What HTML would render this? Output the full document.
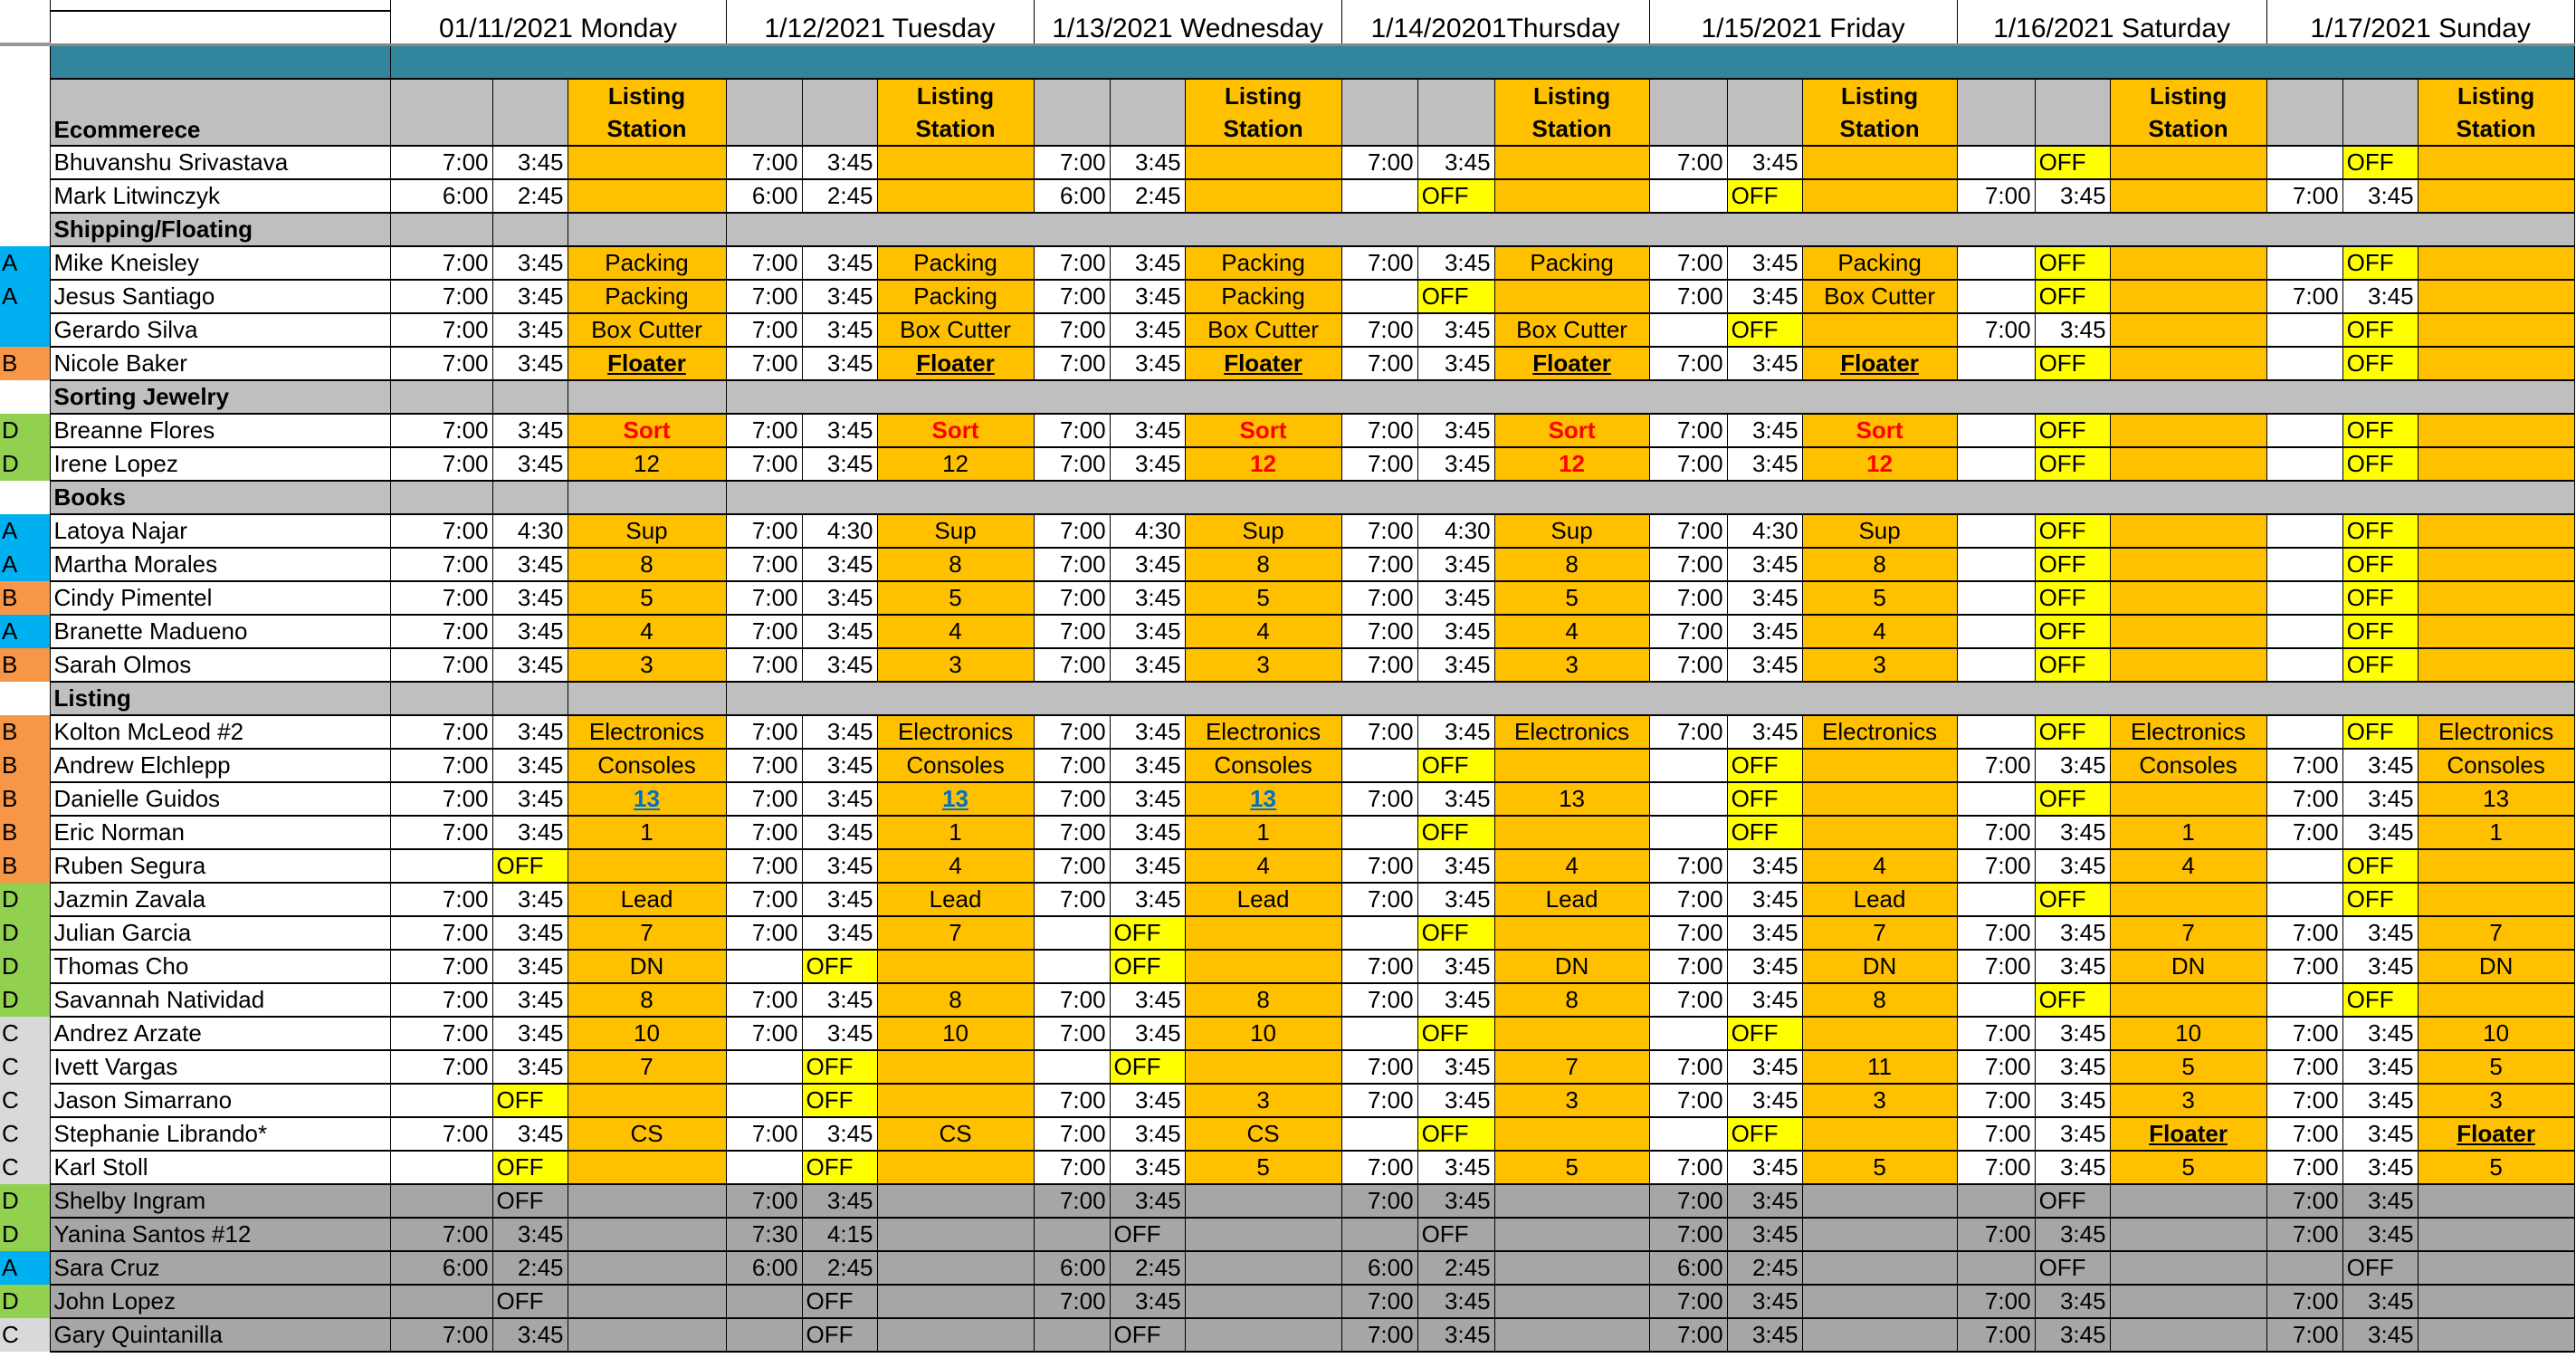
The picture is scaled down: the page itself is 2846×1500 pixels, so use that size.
<!DOCTYPE html>
<html><head><meta charset="utf-8"><style>
html,body{margin:0;padding:0;background:#fff;width:2846px;height:1500px;overflow:hidden}
table{border-collapse:collapse;table-layout:fixed;width:2842px;font-family:"Liberation Sans Narrow","Liberation Sans",sans-serif;font-size:26px;color:#000}
td{border:1px solid #000;border-bottom:2px solid #000;padding:0 4px;white-space:nowrap;overflow:hidden;height:35px;line-height:33px}
td.L{border:none;padding-left:2px;text-align:left}
.s,.e{text-align:right;background:#fff}
.y{background:#ffff00;text-align:left}
.o{background:#ffc000;text-align:center}
.g{background:#bfbfbf}
.b{font-weight:bold}
.r{color:#ff0000;font-weight:bold}
.bl{color:#0070c0;font-weight:bold;text-decoration:underline}
.fl{font-weight:bold;text-decoration:underline}
.A{background:#00b0f0}.B{background:#f79646}.D{background:#92d050}.C{background:#d9d9d9}
tr.dg td{background:#a6a6a6}
tr.dg td.y{background:#a6a6a6}
tr.dg td.o{background:#a6a6a6}
tr.dg td.A{background:#00b0f0}tr.dg td.D{background:#92d050}tr.dg td.C{background:#d9d9d9}
.hd td{text-align:center;font-size:30px}
</style></head><body>
<table>
<colgroup><col style="width:55px"><col style="width:376px">
<col style="width:113px"><col style="width:83px"><col style="width:175px">
<col style="width:84px"><col style="width:83px"><col style="width:173px">
<col style="width:84px"><col style="width:83px"><col style="width:173px">
<col style="width:84px"><col style="width:85px"><col style="width:171px">
<col style="width:86px"><col style="width:83px"><col style="width:171px">
<col style="width:86px"><col style="width:83px"><col style="width:173px">
<col style="width:84px"><col style="width:83px"><col style="width:173px">
</colgroup>
<tr class="hd"><td class="L" rowspan="2" style="height:47px;border-bottom:4px solid #999"></td><td style="height:11px;line-height:11px;border-top:none;border-bottom:2px solid #000"></td>
<td colspan="3" rowspan="2" style="vertical-align:bottom;border-top:none">01/11/2021 Monday</td>
<td colspan="3" rowspan="2" style="vertical-align:bottom;border-top:none">1/12/2021 Tuesday</td>
<td colspan="3" rowspan="2" style="vertical-align:bottom;border-top:none">1/13/2021 Wednesday</td>
<td colspan="3" rowspan="2" style="vertical-align:bottom;border-top:none">1/14/20201Thursday</td>
<td colspan="3" rowspan="2" style="vertical-align:bottom;border-top:none">1/15/2021 Friday</td>
<td colspan="3" rowspan="2" style="vertical-align:bottom;border-top:none">1/16/2021 Saturday</td>
<td colspan="3" rowspan="2" style="vertical-align:bottom;border-top:none">1/17/2021 Sunday</td></tr>
<tr><td style="height:33px"></td></tr>
<tr><td class="L" style="height:36px"></td><td style="background:#31859c;border-top:3px solid #888"></td><td colspan="21" style="background:#31859c;border-top:3px solid #888"></td></tr>
<tr><td class="L" style="height:73px"></td><td class="g b" style="vertical-align:bottom">Ecommerece</td>
<td class="g"></td><td class="g"></td><td class="o b" style="line-height:36px">Listing<br>Station</td>
<td class="g"></td><td class="g"></td><td class="o b" style="line-height:36px">Listing<br>Station</td>
<td class="g"></td><td class="g"></td><td class="o b" style="line-height:36px">Listing<br>Station</td>
<td class="g"></td><td class="g"></td><td class="o b" style="line-height:36px">Listing<br>Station</td>
<td class="g"></td><td class="g"></td><td class="o b" style="line-height:36px">Listing<br>Station</td>
<td class="g"></td><td class="g"></td><td class="o b" style="line-height:36px">Listing<br>Station</td>
<td class="g"></td><td class="g"></td><td class="o b" style="line-height:36px">Listing<br>Station</td></tr>

<tr><td class="L"></td><td>Bhuvanshu Srivastava</td><td class="s">7:00</td><td class="e">3:45</td><td class="o"></td><td class="s">7:00</td><td class="e">3:45</td><td class="o"></td><td class="s">7:00</td><td class="e">3:45</td><td class="o"></td><td class="s">7:00</td><td class="e">3:45</td><td class="o"></td><td class="s">7:00</td><td class="e">3:45</td><td class="o"></td><td class="s"></td><td class="y">OFF</td><td class="o"></td><td class="s"></td><td class="y">OFF</td><td class="o"></td></tr>
<tr><td class="L"></td><td>Mark Litwinczyk</td><td class="s">6:00</td><td class="e">2:45</td><td class="o"></td><td class="s">6:00</td><td class="e">2:45</td><td class="o"></td><td class="s">6:00</td><td class="e">2:45</td><td class="o"></td><td class="s"></td><td class="y">OFF</td><td class="o"></td><td class="s"></td><td class="y">OFF</td><td class="o"></td><td class="s">7:00</td><td class="e">3:45</td><td class="o"></td><td class="s">7:00</td><td class="e">3:45</td><td class="o"></td></tr>
<tr><td class="L"></td><td class="g b">Shipping/Floating</td><td class="g"></td><td class="g"></td><td class="g"></td><td class="g" colspan="18"></td></tr>
<tr><td class="L A">A</td><td>Mike Kneisley</td><td class="s">7:00</td><td class="e">3:45</td><td class="o">Packing</td><td class="s">7:00</td><td class="e">3:45</td><td class="o">Packing</td><td class="s">7:00</td><td class="e">3:45</td><td class="o">Packing</td><td class="s">7:00</td><td class="e">3:45</td><td class="o">Packing</td><td class="s">7:00</td><td class="e">3:45</td><td class="o">Packing</td><td class="s"></td><td class="y">OFF</td><td class="o"></td><td class="s"></td><td class="y">OFF</td><td class="o"></td></tr>
<tr><td class="L A">A</td><td>Jesus Santiago</td><td class="s">7:00</td><td class="e">3:45</td><td class="o">Packing</td><td class="s">7:00</td><td class="e">3:45</td><td class="o">Packing</td><td class="s">7:00</td><td class="e">3:45</td><td class="o">Packing</td><td class="s"></td><td class="y">OFF</td><td class="o"></td><td class="s">7:00</td><td class="e">3:45</td><td class="o">Box Cutter</td><td class="s"></td><td class="y">OFF</td><td class="o"></td><td class="s">7:00</td><td class="e">3:45</td><td class="o"></td></tr>
<tr><td class="L A"></td><td>Gerardo Silva</td><td class="s">7:00</td><td class="e">3:45</td><td class="o">Box Cutter</td><td class="s">7:00</td><td class="e">3:45</td><td class="o">Box Cutter</td><td class="s">7:00</td><td class="e">3:45</td><td class="o">Box Cutter</td><td class="s">7:00</td><td class="e">3:45</td><td class="o">Box Cutter</td><td class="s"></td><td class="y">OFF</td><td class="o"></td><td class="s">7:00</td><td class="e">3:45</td><td class="o"></td><td class="s"></td><td class="y">OFF</td><td class="o"></td></tr>
<tr><td class="L B">B</td><td>Nicole Baker</td><td class="s">7:00</td><td class="e">3:45</td><td class="o fl">Floater</td><td class="s">7:00</td><td class="e">3:45</td><td class="o fl">Floater</td><td class="s">7:00</td><td class="e">3:45</td><td class="o fl">Floater</td><td class="s">7:00</td><td class="e">3:45</td><td class="o fl">Floater</td><td class="s">7:00</td><td class="e">3:45</td><td class="o fl">Floater</td><td class="s"></td><td class="y">OFF</td><td class="o"></td><td class="s"></td><td class="y">OFF</td><td class="o"></td></tr>
<tr><td class="L"></td><td class="g b">Sorting Jewelry</td><td class="g"></td><td class="g"></td><td class="g"></td><td class="g" colspan="18"></td></tr>
<tr><td class="L D">D</td><td>Breanne Flores</td><td class="s">7:00</td><td class="e">3:45</td><td class="o r">Sort</td><td class="s">7:00</td><td class="e">3:45</td><td class="o r">Sort</td><td class="s">7:00</td><td class="e">3:45</td><td class="o r">Sort</td><td class="s">7:00</td><td class="e">3:45</td><td class="o r">Sort</td><td class="s">7:00</td><td class="e">3:45</td><td class="o r">Sort</td><td class="s"></td><td class="y">OFF</td><td class="o"></td><td class="s"></td><td class="y">OFF</td><td class="o"></td></tr>
<tr><td class="L D">D</td><td>Irene Lopez</td><td class="s">7:00</td><td class="e">3:45</td><td class="o">12</td><td class="s">7:00</td><td class="e">3:45</td><td class="o">12</td><td class="s">7:00</td><td class="e">3:45</td><td class="o r">12</td><td class="s">7:00</td><td class="e">3:45</td><td class="o r">12</td><td class="s">7:00</td><td class="e">3:45</td><td class="o r">12</td><td class="s"></td><td class="y">OFF</td><td class="o"></td><td class="s"></td><td class="y">OFF</td><td class="o"></td></tr>
<tr><td class="L"></td><td class="g b">Books</td><td class="g"></td><td class="g"></td><td class="g"></td><td class="g" colspan="18"></td></tr>
<tr><td class="L A">A</td><td>Latoya Najar</td><td class="s">7:00</td><td class="e">4:30</td><td class="o">Sup</td><td class="s">7:00</td><td class="e">4:30</td><td class="o">Sup</td><td class="s">7:00</td><td class="e">4:30</td><td class="o">Sup</td><td class="s">7:00</td><td class="e">4:30</td><td class="o">Sup</td><td class="s">7:00</td><td class="e">4:30</td><td class="o">Sup</td><td class="s"></td><td class="y">OFF</td><td class="o"></td><td class="s"></td><td class="y">OFF</td><td class="o"></td></tr>
<tr><td class="L A">A</td><td>Martha Morales</td><td class="s">7:00</td><td class="e">3:45</td><td class="o">8</td><td class="s">7:00</td><td class="e">3:45</td><td class="o">8</td><td class="s">7:00</td><td class="e">3:45</td><td class="o">8</td><td class="s">7:00</td><td class="e">3:45</td><td class="o">8</td><td class="s">7:00</td><td class="e">3:45</td><td class="o">8</td><td class="s"></td><td class="y">OFF</td><td class="o"></td><td class="s"></td><td class="y">OFF</td><td class="o"></td></tr>
<tr><td class="L B">B</td><td>Cindy Pimentel</td><td class="s">7:00</td><td class="e">3:45</td><td class="o">5</td><td class="s">7:00</td><td class="e">3:45</td><td class="o">5</td><td class="s">7:00</td><td class="e">3:45</td><td class="o">5</td><td class="s">7:00</td><td class="e">3:45</td><td class="o">5</td><td class="s">7:00</td><td class="e">3:45</td><td class="o">5</td><td class="s"></td><td class="y">OFF</td><td class="o"></td><td class="s"></td><td class="y">OFF</td><td class="o"></td></tr>
<tr><td class="L A">A</td><td>Branette Madueno</td><td class="s">7:00</td><td class="e">3:45</td><td class="o">4</td><td class="s">7:00</td><td class="e">3:45</td><td class="o">4</td><td class="s">7:00</td><td class="e">3:45</td><td class="o">4</td><td class="s">7:00</td><td class="e">3:45</td><td class="o">4</td><td class="s">7:00</td><td class="e">3:45</td><td class="o">4</td><td class="s"></td><td class="y">OFF</td><td class="o"></td><td class="s"></td><td class="y">OFF</td><td class="o"></td></tr>
<tr><td class="L B">B</td><td>Sarah Olmos</td><td class="s">7:00</td><td class="e">3:45</td><td class="o">3</td><td class="s">7:00</td><td class="e">3:45</td><td class="o">3</td><td class="s">7:00</td><td class="e">3:45</td><td class="o">3</td><td class="s">7:00</td><td class="e">3:45</td><td class="o">3</td><td class="s">7:00</td><td class="e">3:45</td><td class="o">3</td><td class="s"></td><td class="y">OFF</td><td class="o"></td><td class="s"></td><td class="y">OFF</td><td class="o"></td></tr>
<tr><td class="L"></td><td class="g b">Listing</td><td class="g"></td><td class="g"></td><td class="g"></td><td class="g" colspan="18"></td></tr>
<tr><td class="L B">B</td><td>Kolton McLeod #2</td><td class="s">7:00</td><td class="e">3:45</td><td class="o">Electronics</td><td class="s">7:00</td><td class="e">3:45</td><td class="o">Electronics</td><td class="s">7:00</td><td class="e">3:45</td><td class="o">Electronics</td><td class="s">7:00</td><td class="e">3:45</td><td class="o">Electronics</td><td class="s">7:00</td><td class="e">3:45</td><td class="o">Electronics</td><td class="s"></td><td class="y">OFF</td><td class="o">Electronics</td><td class="s"></td><td class="y">OFF</td><td class="o">Electronics</td></tr>
<tr><td class="L B">B</td><td>Andrew Elchlepp</td><td class="s">7:00</td><td class="e">3:45</td><td class="o">Consoles</td><td class="s">7:00</td><td class="e">3:45</td><td class="o">Consoles</td><td class="s">7:00</td><td class="e">3:45</td><td class="o">Consoles</td><td class="s"></td><td class="y">OFF</td><td class="o"></td><td class="s"></td><td class="y">OFF</td><td class="o"></td><td class="s">7:00</td><td class="e">3:45</td><td class="o">Consoles</td><td class="s">7:00</td><td class="e">3:45</td><td class="o">Consoles</td></tr>
<tr><td class="L B">B</td><td>Danielle Guidos</td><td class="s">7:00</td><td class="e">3:45</td><td class="o bl">13</td><td class="s">7:00</td><td class="e">3:45</td><td class="o bl">13</td><td class="s">7:00</td><td class="e">3:45</td><td class="o bl">13</td><td class="s">7:00</td><td class="e">3:45</td><td class="o">13</td><td class="s"></td><td class="y">OFF</td><td class="o"></td><td class="s"></td><td class="y">OFF</td><td class="o"></td><td class="s">7:00</td><td class="e">3:45</td><td class="o">13</td></tr>
<tr><td class="L B">B</td><td>Eric Norman</td><td class="s">7:00</td><td class="e">3:45</td><td class="o">1</td><td class="s">7:00</td><td class="e">3:45</td><td class="o">1</td><td class="s">7:00</td><td class="e">3:45</td><td class="o">1</td><td class="s"></td><td class="y">OFF</td><td class="o"></td><td class="s"></td><td class="y">OFF</td><td class="o"></td><td class="s">7:00</td><td class="e">3:45</td><td class="o">1</td><td class="s">7:00</td><td class="e">3:45</td><td class="o">1</td></tr>
<tr><td class="L B">B</td><td>Ruben Segura</td><td class="s"></td><td class="y">OFF</td><td class="o"></td><td class="s">7:00</td><td class="e">3:45</td><td class="o">4</td><td class="s">7:00</td><td class="e">3:45</td><td class="o">4</td><td class="s">7:00</td><td class="e">3:45</td><td class="o">4</td><td class="s">7:00</td><td class="e">3:45</td><td class="o">4</td><td class="s">7:00</td><td class="e">3:45</td><td class="o">4</td><td class="s"></td><td class="y">OFF</td><td class="o"></td></tr>
<tr><td class="L D">D</td><td>Jazmin Zavala</td><td class="s">7:00</td><td class="e">3:45</td><td class="o">Lead</td><td class="s">7:00</td><td class="e">3:45</td><td class="o">Lead</td><td class="s">7:00</td><td class="e">3:45</td><td class="o">Lead</td><td class="s">7:00</td><td class="e">3:45</td><td class="o">Lead</td><td class="s">7:00</td><td class="e">3:45</td><td class="o">Lead</td><td class="s"></td><td class="y">OFF</td><td class="o"></td><td class="s"></td><td class="y">OFF</td><td class="o"></td></tr>
<tr><td class="L D">D</td><td>Julian Garcia</td><td class="s">7:00</td><td class="e">3:45</td><td class="o">7</td><td class="s">7:00</td><td class="e">3:45</td><td class="o">7</td><td class="s"></td><td class="y">OFF</td><td class="o"></td><td class="s"></td><td class="y">OFF</td><td class="o"></td><td class="s">7:00</td><td class="e">3:45</td><td class="o">7</td><td class="s">7:00</td><td class="e">3:45</td><td class="o">7</td><td class="s">7:00</td><td class="e">3:45</td><td class="o">7</td></tr>
<tr><td class="L D">D</td><td>Thomas Cho</td><td class="s">7:00</td><td class="e">3:45</td><td class="o">DN</td><td class="s"></td><td class="y">OFF</td><td class="o"></td><td class="s"></td><td class="y">OFF</td><td class="o"></td><td class="s">7:00</td><td class="e">3:45</td><td class="o">DN</td><td class="s">7:00</td><td class="e">3:45</td><td class="o">DN</td><td class="s">7:00</td><td class="e">3:45</td><td class="o">DN</td><td class="s">7:00</td><td class="e">3:45</td><td class="o">DN</td></tr>
<tr><td class="L D">D</td><td>Savannah Natividad</td><td class="s">7:00</td><td class="e">3:45</td><td class="o">8</td><td class="s">7:00</td><td class="e">3:45</td><td class="o">8</td><td class="s">7:00</td><td class="e">3:45</td><td class="o">8</td><td class="s">7:00</td><td class="e">3:45</td><td class="o">8</td><td class="s">7:00</td><td class="e">3:45</td><td class="o">8</td><td class="s"></td><td class="y">OFF</td><td class="o"></td><td class="s"></td><td class="y">OFF</td><td class="o"></td></tr>
<tr><td class="L C">C</td><td>Andrez Arzate</td><td class="s">7:00</td><td class="e">3:45</td><td class="o">10</td><td class="s">7:00</td><td class="e">3:45</td><td class="o">10</td><td class="s">7:00</td><td class="e">3:45</td><td class="o">10</td><td class="s"></td><td class="y">OFF</td><td class="o"></td><td class="s"></td><td class="y">OFF</td><td class="o"></td><td class="s">7:00</td><td class="e">3:45</td><td class="o">10</td><td class="s">7:00</td><td class="e">3:45</td><td class="o">10</td></tr>
<tr><td class="L C">C</td><td>Ivett Vargas</td><td class="s">7:00</td><td class="e">3:45</td><td class="o">7</td><td class="s"></td><td class="y">OFF</td><td class="o"></td><td class="s"></td><td class="y">OFF</td><td class="o"></td><td class="s">7:00</td><td class="e">3:45</td><td class="o">7</td><td class="s">7:00</td><td class="e">3:45</td><td class="o">11</td><td class="s">7:00</td><td class="e">3:45</td><td class="o">5</td><td class="s">7:00</td><td class="e">3:45</td><td class="o">5</td></tr>
<tr><td class="L C">C</td><td>Jason Simarrano</td><td class="s"></td><td class="y">OFF</td><td class="o"></td><td class="s"></td><td class="y">OFF</td><td class="o"></td><td class="s">7:00</td><td class="e">3:45</td><td class="o">3</td><td class="s">7:00</td><td class="e">3:45</td><td class="o">3</td><td class="s">7:00</td><td class="e">3:45</td><td class="o">3</td><td class="s">7:00</td><td class="e">3:45</td><td class="o">3</td><td class="s">7:00</td><td class="e">3:45</td><td class="o">3</td></tr>
<tr><td class="L C">C</td><td>Stephanie Librando*</td><td class="s">7:00</td><td class="e">3:45</td><td class="o">CS</td><td class="s">7:00</td><td class="e">3:45</td><td class="o">CS</td><td class="s">7:00</td><td class="e">3:45</td><td class="o">CS</td><td class="s"></td><td class="y">OFF</td><td class="o"></td><td class="s"></td><td class="y">OFF</td><td class="o"></td><td class="s">7:00</td><td class="e">3:45</td><td class="o fl">Floater</td><td class="s">7:00</td><td class="e">3:45</td><td class="o fl">Floater</td></tr>
<tr><td class="L C">C</td><td>Karl Stoll</td><td class="s"></td><td class="y">OFF</td><td class="o"></td><td class="s"></td><td class="y">OFF</td><td class="o"></td><td class="s">7:00</td><td class="e">3:45</td><td class="o">5</td><td class="s">7:00</td><td class="e">3:45</td><td class="o">5</td><td class="s">7:00</td><td class="e">3:45</td><td class="o">5</td><td class="s">7:00</td><td class="e">3:45</td><td class="o">5</td><td class="s">7:00</td><td class="e">3:45</td><td class="o">5</td></tr>
<tr class="dg"><td class="L D">D</td><td>Shelby Ingram</td><td class="s"></td><td class="y">OFF</td><td class="o"></td><td class="s">7:00</td><td class="e">3:45</td><td class="o"></td><td class="s">7:00</td><td class="e">3:45</td><td class="o"></td><td class="s">7:00</td><td class="e">3:45</td><td class="o"></td><td class="s">7:00</td><td class="e">3:45</td><td class="o"></td><td class="s"></td><td class="y">OFF</td><td class="o"></td><td class="s">7:00</td><td class="e">3:45</td><td class="o"></td></tr>
<tr class="dg"><td class="L D">D</td><td>Yanina Santos #12</td><td class="s">7:00</td><td class="e">3:45</td><td class="o"></td><td class="s">7:30</td><td class="e">4:15</td><td class="o"></td><td class="s"></td><td class="y">OFF</td><td class="o"></td><td class="s"></td><td class="y">OFF</td><td class="o"></td><td class="s">7:00</td><td class="e">3:45</td><td class="o"></td><td class="s">7:00</td><td class="e">3:45</td><td class="o"></td><td class="s">7:00</td><td class="e">3:45</td><td class="o"></td></tr>
<tr class="dg"><td class="L A">A</td><td>Sara Cruz</td><td class="s">6:00</td><td class="e">2:45</td><td class="o"></td><td class="s">6:00</td><td class="e">2:45</td><td class="o"></td><td class="s">6:00</td><td class="e">2:45</td><td class="o"></td><td class="s">6:00</td><td class="e">2:45</td><td class="o"></td><td class="s">6:00</td><td class="e">2:45</td><td class="o"></td><td class="s"></td><td class="y">OFF</td><td class="o"></td><td class="s"></td><td class="y">OFF</td><td class="o"></td></tr>
<tr class="dg"><td class="L D">D</td><td>John Lopez</td><td class="s"></td><td class="y">OFF</td><td class="o"></td><td class="s"></td><td class="y">OFF</td><td class="o"></td><td class="s">7:00</td><td class="e">3:45</td><td class="o"></td><td class="s">7:00</td><td class="e">3:45</td><td class="o"></td><td class="s">7:00</td><td class="e">3:45</td><td class="o"></td><td class="s">7:00</td><td class="e">3:45</td><td class="o"></td><td class="s">7:00</td><td class="e">3:45</td><td class="o"></td></tr>
<tr class="dg"><td class="L C">C</td><td>Gary Quintanilla</td><td class="s">7:00</td><td class="e">3:45</td><td class="o"></td><td class="s"></td><td class="y">OFF</td><td class="o"></td><td class="s"></td><td class="y">OFF</td><td class="o"></td><td class="s">7:00</td><td class="e">3:45</td><td class="o"></td><td class="s">7:00</td><td class="e">3:45</td><td class="o"></td><td class="s">7:00</td><td class="e">3:45</td><td class="o"></td><td class="s">7:00</td><td class="e">3:45</td><td class="o"></td></tr>
</table>
</body></html>
